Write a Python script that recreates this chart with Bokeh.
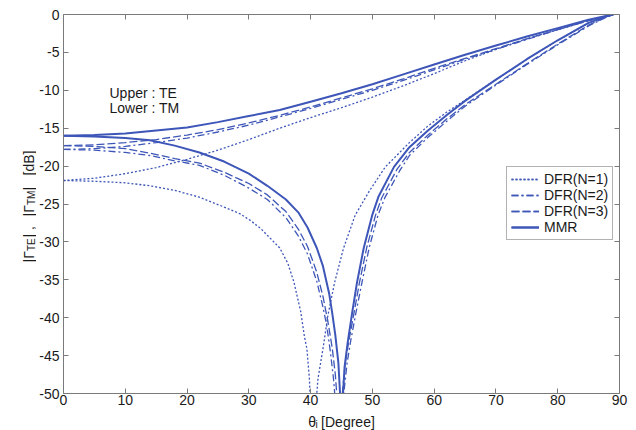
import math
from bokeh.plotting import figure
from bokeh.layouts import row, column
from bokeh.models import (Label, Legend, LegendItem, LinearAxis, FixedTicker, Range1d,
                          PrintfTickFormatter)
from bokeh.embed import file_html
from bokeh.resources import INLINE

# ---------------- data ----------------
theta_te = [0, 5, 10, 15, 20, 25, 30, 35, 40, 45, 50, 55, 60, 65, 70, 75, 80, 85, 88, 89]
te_mmr = [-16.0, -15.9, -15.7, -15.3, -14.9, -14.2, -13.4, -12.6, -11.5, -10.4, -9.2, -7.9,
          -6.6, -5.3, -4.1, -2.9, -1.8, -0.7, -0.15, 0.0]
te_n3 = [-17.3, -17.2, -16.9, -16.5, -15.9, -15.2, -14.3, -13.3, -12.2, -11.0, -9.8, -8.5,
         -7.1, -5.8, -4.5, -3.2, -2.0, -0.8, -0.2, 0.0]
te_n2 = [-17.8, -17.7, -17.4, -16.9, -16.3, -15.5, -14.6, -13.5, -12.4, -11.2, -10.0, -8.7,
         -7.3, -5.9, -4.6, -3.3, -2.0, -0.8, -0.2, 0.0]
te_n1 = [-21.9, -21.6, -21.0, -20.2, -19.1, -17.9, -16.5, -15.0, -13.6, -12.3, -10.9, -9.4,
         -7.8, -6.1, -4.6, -3.2, -2.0, -0.8, -0.2, 0.0]

theta_tm_mmr = [0, 5, 10, 14, 18, 22, 26, 30, 33, 36, 38, 39.5, 41, 42, 43, 43.5, 44, 44.5, 44.9,
                45.1, 45.5, 46, 46.7, 47.5, 48.6, 50, 51, 53.5, 56, 59, 62, 65, 70, 75, 80, 85, 88, 89]
tm_mmr = [-16.0, -16.1, -16.3, -16.6, -17.3, -18.2, -19.4, -21.0, -22.6, -24.4, -26.1, -28.1, -30.8,
          -33.2, -36.8, -39.4, -42.3, -46.0, -52.0, -52.0, -46.5, -43.3, -39.5, -35.4, -30.8, -26.4,
          -24.0, -20.1, -17.5, -15.3, -13.3, -11.4, -8.6, -5.9, -3.4, -1.1, -0.2, 0.0]

theta_tm_n3 = [0, 5, 10, 14, 18, 22, 26, 30, 33, 36, 38, 39.5, 41, 42, 42.8, 43.5, 44, 44.4, 44.9,
               45.6, 46.2, 47.0, 47.9, 49.1, 50.5, 51.5, 54, 56, 59, 62, 65, 70, 75, 80, 85, 88, 89]
tm_n3 = [-17.3, -17.4, -17.7, -18.3, -19.0, -19.6, -20.8, -22.3, -23.8, -26.0, -28.3, -30.6, -34.0,
         -37.2, -40.5, -44.0, -47.5, -52.0, -52.0, -46.0, -43.0, -39.5, -35.4, -30.7, -26.5, -24.2,
         -20.4, -18.2, -15.9, -13.8, -11.9, -9.2, -6.5, -3.9, -1.4, -0.3, 0.0]

theta_tm_n2 = [0, 5, 10, 14, 18, 22, 26, 30, 33, 36, 38, 39.5, 41, 42, 42.6, 43.2, 43.7, 44.1, 45.1,
               45.9, 46.5, 47.3, 48.3, 49.5, 50.9, 52, 54.5, 56, 59, 62, 65, 70, 75, 80, 85, 88, 89]
tm_n2 = [-17.8, -17.9, -18.2, -18.6, -19.3, -19.9, -21.2, -22.9, -24.4, -26.8, -29.2, -31.6, -35.2,
         -38.6, -41.0, -44.5, -48.0, -52.0, -52.0, -46.0, -43.0, -39.5, -35.4, -30.7, -26.5, -24.2,
         -20.5, -18.6, -16.2, -14.1, -12.1, -9.3, -6.6, -4.0, -1.5, -0.3, 0.0]

theta_tm_n1 = [0, 5, 10, 14, 18, 22, 26, 28.6, 30.3, 32, 35, 36.3, 37.3, 38.4, 39.0, 39.4, 39.8, 40.0,
               40.8, 41.2, 42.0, 42.8, 43.9, 45.3, 47.2, 49.5, 52.1, 56, 59, 62, 65, 70, 75, 80,
               85, 88, 89]
tm_n1 = [-21.9, -22.0, -22.2, -22.6, -23.2, -24.1, -25.4, -26.3, -27.2, -28.3, -30.8, -32.8, -35.3,
         -39.2, -42.5, -44.1, -48.0, -52.0, -52.0, -48.0, -44.1, -39.7, -35.3, -30.9, -26.5, -23.3,
         -20.1, -16.9, -14.7, -12.9, -11.3, -8.6, -5.9, -3.4, -1.1, -0.2, 0.0]

x_ticks = [0, 10, 20, 30, 40, 50, 60, 70, 80, 90]
y_ticks = [-50, -45, -40, -35, -30, -25, -20, -15, -10, -5, 0]
series_names = ["DFR(N=1)", "DFR(N=2)", "DFR(N=3)", "MMR"]

# ---------------- styling / layout ----------------
BLUE = "#3d56b8"
FONT = "Liberation Sans"
TXT = "#1a1a1a"
AX = "#7a7a7a"

TOTAL_H = 430
YL_W = 36            # strip on the left holding the y-axis title
XL_H = 20            # strip at the bottom holding the x-axis title
W, H = 636 - YL_W, TOTAL_H - XL_H
FL, FT, FR, FB = 63, 14, 619, 393   # frame edges in page pixels

p = figure(width=W, height=H, output_backend="svg", toolbar_location=None,
           x_range=Range1d(0, 90), y_range=Range1d(-50, 0),
           min_border_left=FL - YL_W, min_border_right=636 - FR, min_border_top=FT,
           min_border_bottom=H - FB,
           background_fill_color="white", border_fill_color="white")
p.outline_line_color = None
p.xgrid.visible = False
p.ygrid.visible = False

for ax in (p.xaxis[0], p.yaxis[0]):
    ax.major_tick_in = 5
    ax.major_tick_out = 0
    ax.minor_tick_in = 0
    ax.minor_tick_out = 0
    ax.axis_line_color = AX
    ax.major_tick_line_color = AX
    ax.major_label_text_font = FONT
    ax.major_label_text_font_size = "14px"
    ax.major_label_text_color = TXT
    ax.major_label_standoff = 4
    ax.formatter = PrintfTickFormatter(format="%d")
p.xaxis[0].major_label_standoff = 1
p.xaxis[0].ticker = FixedTicker(ticks=x_ticks)
p.yaxis[0].ticker = FixedTicker(ticks=y_ticks)

# box axes (top / right): ticks only, labels not drawn
top = LinearAxis(ticker=FixedTicker(ticks=x_ticks), major_label_text_font_size="1px",
                 major_label_text_color=None, major_label_standoff=0,
                 major_tick_in=5, major_tick_out=0,
                 minor_tick_in=0, minor_tick_out=0, axis_line_color=AX, major_tick_line_color=AX)
right = LinearAxis(ticker=FixedTicker(ticks=y_ticks), major_label_text_font_size="1px",
                   major_label_text_color=None, major_label_standoff=0,
                   major_tick_in=5, major_tick_out=0,
                   minor_tick_in=0, minor_tick_out=0, axis_line_color=AX, major_tick_line_color=AX)
p.add_layout(top, "above")
p.add_layout(right, "right")

styles = [
    dict(line_dash="2 2", line_width=1.3),
    dict(line_dash="7 3 2 3", line_width=1.3),
    dict(line_dash="8 3", line_width=1.3),
    dict(line_dash="solid", line_width=2.0),
]
te_data = [te_n1, te_n2, te_n3, te_mmr]
tm_data = [(theta_tm_n1, tm_n1), (theta_tm_n2, tm_n2), (theta_tm_n3, tm_n3), (theta_tm_mmr, tm_mmr)]

items = []
for name, st, te, (tx, tm) in zip(series_names, styles, te_data, tm_data):
    r1 = p.line(theta_te, te, line_color=BLUE, **st)
    r2 = p.line(tx, tm, line_color=BLUE, **st)
    items.append(LegendItem(label=name, renderers=[r1, r2]))

legend = Legend(items=items, location=(506 - FL, FB - 240), padding=4, margin=0, spacing=0,
                label_height=16, glyph_height=16, glyph_width=28, label_standoff=5,
                label_text_font=FONT, label_text_font_size="14px", label_text_color=TXT,
                border_line_color="#666666", border_line_width=1,
                background_fill_color="white", background_fill_alpha=1.0)
p.add_layout(legend, "center")

SX, SY = (FR - FL) / 90.0, (FB - FT) / 50.0
for txt, px, py in [("Upper : TE", 109, 92), ("Lower : TM", 109, 107)]:
    p.add_layout(Label(x=(px - FL) / SX, y=-(py - FT) / SY, text=txt, text_font=FONT,
                       text_font_size="14px", text_color=TXT, text_align="left",
                       text_baseline="middle"))


# ---------------- axis titles in thin strips (page-pixel coordinates) ----------------
def strip(width, height, x0, y0):
    f = figure(width=width, height=height, output_backend="svg", toolbar_location=None,
               x_range=Range1d(x0, x0 + width), y_range=Range1d(TOTAL_H - y0 - height, TOTAL_H - y0),
               x_axis_type=None, y_axis_type=None, min_border=0,
               background_fill_color="white", border_fill_color="white")
    f.outline_line_color = None
    f.xgrid.visible = False
    f.ygrid.visible = False
    return f


def put(f, txt, px, py, size="14px", angle=0.0):
    f.add_layout(Label(x=px, y=TOTAL_H - py, text=txt, text_font=FONT, text_font_size=size,
                       text_color=TXT, angle=angle, text_align="left",
                       text_baseline="alphabetic"))


ylab = strip(YL_W, TOTAL_H, 0, 0)
A = math.pi / 2
put(ylab, "|\u0393", 28, 262, angle=A)
put(ylab, "TE", 31, 250.5, size="10px", angle=A)
put(ylab, "|  ,", 28, 237, angle=A)
put(ylab, "|\u0393", 28, 216, angle=A)
put(ylab, "TM", 31, 204.5, size="10px", angle=A)
put(ylab, "|", 28, 190, angle=A)
put(ylab, "[dB]", 28, 175, angle=A)

xlab = strip(W, XL_H, YL_W, H)
put(xlab, "\u03b8", 300, 421)
put(xlab, "i", 308, 423.5, size="10px")
put(xlab, "[Degree]", 314, 421)

layout = row(ylab, column(p, xlab, spacing=0), spacing=0)

open("out.html", "w").write(file_html(layout, INLINE))
